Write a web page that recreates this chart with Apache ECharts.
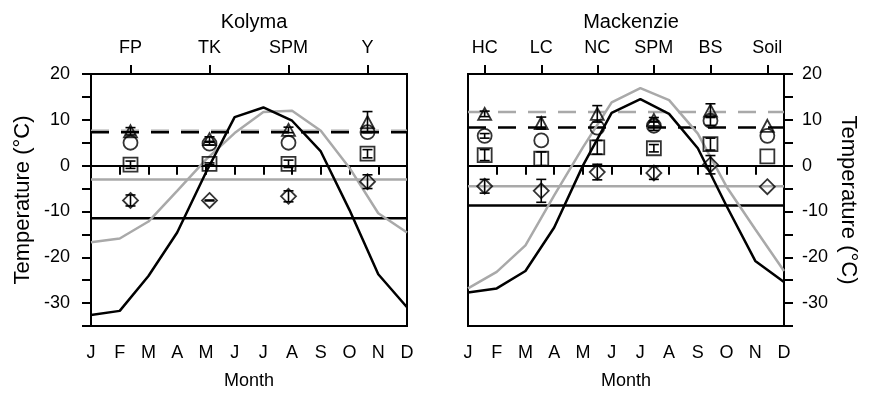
<!DOCTYPE html>
<html>
<head>
<meta charset="utf-8">
<script src="https://cdn.jsdelivr.net/npm/echarts@6/dist/echarts.min.js"></script>
<style>
  html, body { margin: 0; padding: 0; background: #fff; }
  #chart { width: 869px; height: 395px; }
</style>
</head>
<body>
<div id="chart"></div>
<script>
// Month axis (1 = January ... 12 = December)
const monthLetters = ['J', 'F', 'M', 'A', 'M', 'J', 'J', 'A', 'S', 'O', 'N', 'D'];

// ---- Kolyma ----
const kolymaSites = ['FP', 'TK', 'SPM', 'Y'];
const kolymaSiteMonth = [2.375, 5.125, 7.875, 10.625];
const kolymaBlackCurve = [-32.6, -31.7, -24.1, -14.6, -1.5, 10.6, 12.7, 9.8, 3.1, -9.7, -23.7, -30.9];
const kolymaGrayCurve = [-16.7, -15.9, -12.2, -5.5, 1.3, 7.1, 11.7, 12.0, 7.6, -0.5, -10.4, -14.6];
const kolymaBlackSolid = -11.5;
const kolymaGraySolid = -3.0;
const kolymaBlackDashed = 7.3;
const kolymaGrayDashed = 7.6;
const kolymaTriangle = [7.5, 5.8, 7.8, 9.5];
const kolymaTriangleErr = [0.8, 0.5, 0.6, 2.3];
const kolymaCircle = [5.0, 4.8, 5.0, 7.3];
const kolymaCircleErr = [0, 0.3, 0, 0];
const kolymaSquare = [0.2, 0.4, 0.4, 2.6];
const kolymaSquareErr = [0.8, 0.2, 0.8, 0.9];
const kolymaDiamond = [-7.6, -7.6, -6.7, -3.5];
const kolymaDiamondErr = [1.2, 0.1, 1.2, 1.5];

// ---- Mackenzie ----
const mackenzieSites = ['HC', 'LC', 'NC', 'SPM', 'BS', 'Soil'];
const mackenzieSiteMonth = [1.58, 3.55, 5.5, 7.47, 9.44, 11.42];
const mackenzieBlackCurve = [-27.7, -26.8, -23.0, -13.5, 0.0, 11.5, 14.5, 11.3, 3.8, -8.8, -20.8, -25.4];
const mackenzieGrayCurve = [-26.8, -23.2, -17.4, -6.5, 4.0, 13.8, 16.9, 14.3, 7.0, -4.6, -13.9, -23.0];
const mackenzieBlackSolid = -8.7;
const mackenzieGraySolid = -4.5;
const mackenzieBlackDashed = 8.3;
const mackenzieGrayDashed = 11.7;
const mackenzieTriangle = [11.3, 9.3, 11.3, 10.0, 12.0, 8.7];
const mackenzieTriangleErr = [0.6, 1.3, 1.8, 0.5, 1.5, 0];
const mackenzieCircle = [6.5, 5.5, 8.3, 8.7, 9.8, 6.5];
const mackenzieCircleErr = [0.5, 0, 0, 1.0, 1.0, 0];
const mackenzieSquare = [2.3, 1.5, 4.0, 3.8, 4.7, 2.0];
const mackenzieSquareErr = [1.2, 1.5, 1.5, 0.8, 1.3, 0];
const mackenzieDiamond = [-4.5, -5.5, -1.4, -1.6, 0.2, -4.6];
const mackenzieDiamondErr = [1.5, 2.5, 1.7, 1.4, 2.0, 0];

const yMin = -35, yMax = 20, yStep = 5;
const GRAY = '#a9a9a9';
const FONT = 'Liberation Sans, Arial, Helvetica, sans-serif';
const FS = 18;        // tick labels and month title
const NAME_FS = 22;   // temperature titles
const TITLE_FS = 20;  // panel titles

const monthSeries = vals => vals.map((v, i) => [i + 1, v]);
const flatSeries = v => [[1, v], [12, v]];
const pointSeries = (xs, vals) => xs.map((x, i) => [x, vals[i]]);
const errSeries = (xs, vals, errs) => xs.map((x, i) => [x, vals[i], errs[i]]).filter(d => d[2] > 0);

function errorBarItem(params, api) {
  const x = api.value(0), v = api.value(1), e = api.value(2);
  const top = api.coord([x, v + e]);
  const bot = api.coord([x, v - e]);
  const half = 5;
  const st = { stroke: '#000', lineWidth: 1.6 };
  return {
    type: 'group',
    children: [
      { type: 'line', shape: { x1: top[0], y1: top[1], x2: bot[0], y2: bot[1] }, style: st },
      { type: 'line', shape: { x1: top[0] - half, y1: top[1], x2: top[0] + half, y2: top[1] }, style: st },
      { type: 'line', shape: { x1: bot[0] - half, y1: bot[1], x2: bot[0] + half, y2: bot[1] }, style: st }
    ]
  };
}

const axisLineStyle = { show: true, lineStyle: { color: '#000', width: 2 } };
const tickStyle = { show: true, inside: false, length: 9, lineStyle: { color: '#000', width: 2 } };
const labelText = { color: '#000', fontSize: FS, fontFamily: FONT };

function monthAxis(gridIndex) {
  return {
    type: 'value', gridIndex, position: 'bottom', min: 1, max: 12, interval: 1,
    axisLine: axisLineStyle, axisTick: tickStyle, splitLine: { show: false },
    axisLabel: Object.assign({ margin: 18, formatter: v => monthLetters[v - 1] || '' }, labelText),
    name: 'Month', nameLocation: 'middle', nameGap: 46,
    nameTextStyle: { color: '#000', fontSize: FS, fontFamily: FONT }
  };
}

function siteAxis(gridIndex, sites, pos) {
  return {
    type: 'value', gridIndex, position: 'top', min: 1, max: 12,
    axisLine: axisLineStyle,
    axisTick: Object.assign({ customValues: pos }, tickStyle),
    splitLine: { show: false },
    axisLabel: Object.assign({
      margin: 17, customValues: pos,
      formatter: v => { const i = pos.indexOf(v); return i >= 0 ? sites[i] : ''; }
    }, labelText)
  };
}

function tempAxis(gridIndex, position) {
  return {
    type: 'value', gridIndex, position, min: yMin, max: yMax, interval: yStep,
    axisLine: axisLineStyle, axisTick: tickStyle, splitLine: { show: false },
    axisLabel: Object.assign({ margin: position === 'left' ? 21 : 18, formatter: v => (v % 10 === 0 ? String(v) : '') }, labelText),
    name: 'Temperature (°C)', nameLocation: 'middle',
    nameRotate: position === 'left' ? 90 : -90,
    nameGap: position === 'left' ? 57 : 53,
    nameTextStyle: { color: '#000', fontSize: NAME_FS, fontFamily: FONT }
  };
}

function panelSeries(idx, d) {
  const base = { xAxisIndex: idx * 2, yAxisIndex: idx, silent: true, animation: false };
  const line = (data, color, type, width) => Object.assign({
    type: 'line', data, symbol: 'none', showSymbol: false,
    lineStyle: { color, width, type }
  }, base);
  const marker = (data, symbol, size) => Object.assign({
    type: 'scatter', data, symbol, symbolSize: size, z: 5,
    itemStyle: { color: 'rgba(0,0,0,0)', borderColor: '#000', borderWidth: 1.8 }
  }, base);
  const errs = data => Object.assign({
    type: 'custom', data, renderItem: errorBarItem, encode: { x: 0, y: 1 }, z: 6
  }, base);
  return [
    line(flatSeries(d.graySolid), GRAY, 'solid', 2.5),
    line(flatSeries(d.blackSolid), '#000', 'solid', 2.5),
    line(flatSeries(d.grayDashed), GRAY, [18, 12], 2.5),
    line(flatSeries(d.blackDashed), '#000', [18, 12], 2.5),
    line(monthSeries(d.grayCurve), GRAY, 'solid', 2.5),
    line(monthSeries(d.blackCurve), '#000', 'solid', 2.5),
    marker(pointSeries(d.x, d.triangle), 'triangle', [13, 12]),
    marker(pointSeries(d.x, d.circle), 'circle', 14),
    marker(pointSeries(d.x, d.square), 'rect', 14),
    marker(pointSeries(d.x, d.diamond), 'diamond', [15, 15]),
    errs(errSeries(d.x, d.triangle, d.triangleErr)),
    errs(errSeries(d.x, d.circle, d.circleErr)),
    errs(errSeries(d.x, d.square, d.squareErr)),
    errs(errSeries(d.x, d.diamond, d.diamondErr))
  ];
}

const kolyma = {
  x: kolymaSiteMonth, blackCurve: kolymaBlackCurve, grayCurve: kolymaGrayCurve,
  blackSolid: kolymaBlackSolid, graySolid: kolymaGraySolid,
  blackDashed: kolymaBlackDashed, grayDashed: kolymaGrayDashed,
  triangle: kolymaTriangle, triangleErr: kolymaTriangleErr,
  circle: kolymaCircle, circleErr: kolymaCircleErr,
  square: kolymaSquare, squareErr: kolymaSquareErr,
  diamond: kolymaDiamond, diamondErr: kolymaDiamondErr
};
const mackenzie = {
  x: mackenzieSiteMonth, blackCurve: mackenzieBlackCurve, grayCurve: mackenzieGrayCurve,
  blackSolid: mackenzieBlackSolid, graySolid: mackenzieGraySolid,
  blackDashed: mackenzieBlackDashed, grayDashed: mackenzieGrayDashed,
  triangle: mackenzieTriangle, triangleErr: mackenzieTriangleErr,
  circle: mackenzieCircle, circleErr: mackenzieCircleErr,
  square: mackenzieSquare, squareErr: mackenzieSquareErr,
  diamond: mackenzieDiamond, diamondErr: mackenzieDiamondErr
};

const chart = echarts.init(document.getElementById('chart'), null, { renderer: 'canvas' });
chart.setOption({
  animation: false,
  backgroundColor: '#fff',
  title: [
    { text: 'Kolyma', left: 249, top: 7, textAlign: 'center',
      textStyle: { color: '#000', fontSize: TITLE_FS, fontWeight: 'normal', fontFamily: FONT } },
    { text: 'Mackenzie', left: 626, top: 7, textAlign: 'center',
      textStyle: { color: '#000', fontSize: TITLE_FS, fontWeight: 'normal', fontFamily: FONT } }
  ],
  grid: [
    { left: 91, right: 462, top: 74, bottom: 68, show: true, borderColor: '#000', borderWidth: 2, backgroundColor: 'transparent' },
    { left: 468, right: 85, top: 74, bottom: 68, show: true, borderColor: '#000', borderWidth: 2, backgroundColor: 'transparent' }
  ],
  xAxis: [
    monthAxis(0),
    siteAxis(0, kolymaSites, kolymaSiteMonth),
    monthAxis(1),
    siteAxis(1, mackenzieSites, mackenzieSiteMonth)
  ],
  yAxis: [
    tempAxis(0, 'left'),
    tempAxis(1, 'right')
  ],
  series: [].concat(panelSeries(0, kolyma), panelSeries(1, mackenzie))
});
</script>
</body>
</html>
